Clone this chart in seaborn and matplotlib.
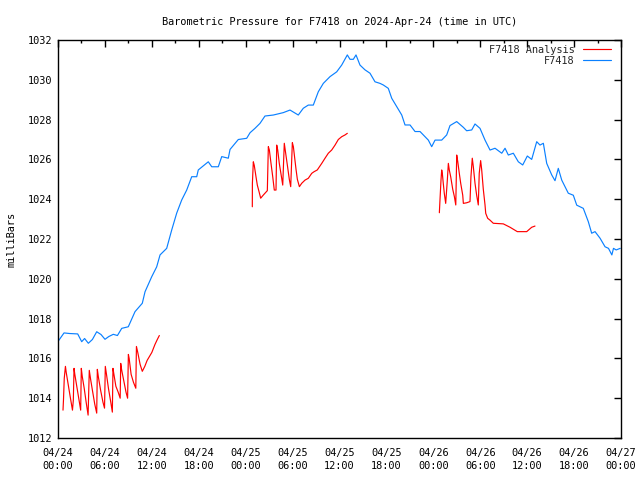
import matplotlib
matplotlib.use("Agg")
import matplotlib.pyplot as plt
import seaborn as sns
import pandas as pd
from matplotlib.lines import Line2D
from matplotlib.ticker import MultipleLocator

# --- data: hours since 2024-04-24 00:00 UTC, pressure in mb ---
station_hours = [0.0, 0.77, 1.5, 2.52, 3.03, 3.4, 3.88, 4.4, 4.95, 5.5, 6.01, 6.5, 7.07, 7.6, 8.15, 8.99,
                 9.85, 10.78, 11.13, 11.98, 12.62, 13.05, 13.9, 14.54, 15.18, 15.82, 16.46, 17.1, 17.74,
                 17.94, 19.22, 19.66, 20.5, 20.94, 21.78, 22.0, 23.06, 24.13, 24.56, 25.19, 25.83, 26.47,
                 27.54, 28.81, 29.67, 30.73, 31.37, 32.01, 32.65, 33.29, 33.93, 34.79, 35.64, 36.28, 37.0,
                 37.34, 37.77, 38.11, 38.62, 39.26, 39.9, 40.54, 41.18, 41.6, 42.24, 42.68, 43.32, 43.96,
                 44.38, 45.02, 45.66, 46.3, 46.94, 47.36, 47.79, 48.22, 49.07, 49.71, 50.13, 50.99, 51.84,
                 52.26, 52.91, 53.33, 53.97, 54.61, 55.25, 55.89, 56.75, 57.17, 57.59, 58.23, 58.87, 59.43,
                 60.02, 60.58, 61.22, 61.64, 62.07, 62.5, 63.14, 63.56, 63.98, 64.42, 65.26, 65.9, 66.34,
                 67.18, 67.82, 68.25, 68.68, 69.32, 69.96, 70.4, 70.83, 71.04, 71.38, 71.9]
station_mb = [1016.85, 1017.28, 1017.25, 1017.23, 1016.84, 1017.0, 1016.76, 1016.95, 1017.34, 1017.2, 1016.96,
              1017.1, 1017.21, 1017.15, 1017.51, 1017.59, 1018.35, 1018.77, 1019.35, 1020.1, 1020.6, 1021.2,
              1021.53, 1022.45, 1023.3, 1023.96, 1024.46, 1025.13, 1025.13, 1025.47, 1025.88, 1025.63,
              1025.63, 1026.14, 1026.06, 1026.5, 1027.0, 1027.06, 1027.34, 1027.56, 1027.81, 1028.18,
              1028.23, 1028.35, 1028.48, 1028.23, 1028.57, 1028.73, 1028.73, 1029.4, 1029.82, 1030.16,
              1030.4, 1030.74, 1031.25, 1031.03, 1031.03, 1031.25, 1030.74, 1030.5, 1030.33, 1029.9,
              1029.82, 1029.74, 1029.57, 1029.07, 1028.65, 1028.23, 1027.73, 1027.73, 1027.4, 1027.4,
              1027.14, 1026.97, 1026.64, 1026.97, 1026.97, 1027.23, 1027.7, 1027.9, 1027.61, 1027.44,
              1027.48, 1027.78, 1027.56, 1026.97, 1026.47, 1026.56, 1026.31, 1026.56, 1026.22, 1026.31,
              1025.88, 1025.72, 1026.17, 1026.0, 1026.89, 1026.72, 1026.81, 1025.8, 1025.22, 1024.93,
              1025.55, 1024.96, 1024.3, 1024.2, 1023.7, 1023.54, 1022.87, 1022.29, 1022.37, 1022.04,
              1021.61, 1021.53, 1021.2, 1021.53, 1021.45, 1021.53]

# analysis runs, three separate segments
run1_hours = [0.64, 0.70, 0.80, 0.95, 1.05, 1.3, 1.55, 1.85, 1.96, 2.05, 2.15, 2.4, 2.65, 2.90, 2.98, 3.1,
              3.35, 3.6, 3.85, 3.92, 4.0, 4.15, 4.4, 4.7, 4.95, 5.03, 5.15, 5.45, 5.75, 5.95, 6.05, 6.2,
              6.45, 6.75, 6.95, 7.03, 7.15, 7.4, 7.7, 7.95, 8.02, 8.15, 8.4, 8.7, 8.9, 9.0, 9.1, 9.35,
              9.65, 9.95, 10.03, 10.2, 10.5, 10.78, 11.1, 11.4, 11.7, 12.0, 12.4, 12.7, 12.96]
run1_mb = [1013.4, 1013.9, 1015.0, 1015.6, 1015.3, 1014.7, 1014.1, 1013.4, 1013.9, 1015.5, 1015.2, 1014.6,
           1014.0, 1013.4, 1015.5, 1015.1, 1014.5, 1013.8, 1013.15, 1014.2, 1015.4, 1015.0, 1014.4,
           1013.7, 1013.25, 1015.45, 1015.1, 1014.4, 1013.8, 1013.5, 1015.6, 1015.2, 1014.5, 1013.8,
           1013.3, 1015.5, 1015.2, 1014.6, 1014.3, 1014.0, 1015.75, 1015.4, 1014.9, 1014.3, 1014.0,
           1016.2, 1016.0, 1015.2, 1014.8, 1014.5, 1016.6, 1016.3, 1015.7, 1015.35, 1015.6, 1015.9,
           1016.1, 1016.3, 1016.7, 1016.95, 1017.15]
run2_hours = [24.85, 24.86, 24.98, 25.1, 25.32, 25.49, 25.71, 25.92, 26.26, 26.77, 26.9, 27.03, 27.24,
              27.46, 27.66, 27.88, 27.97, 28.1, 28.3, 28.61, 28.74, 28.94, 29.12, 29.37, 29.58, 29.76,
              29.97, 30.1, 30.44, 30.61, 30.87, 31.17, 31.59, 32.01, 32.45, 32.74, 33.16, 33.73, 34.15,
              34.57, 35.0, 35.43, 35.85, 36.28, 36.71, 37.0]
run2_mb = [1023.62, 1024.8, 1025.88, 1025.7, 1025.13, 1024.71, 1024.38, 1024.05, 1024.21, 1024.43,
           1026.64, 1026.47, 1025.8, 1025.13, 1024.46, 1024.46, 1026.72, 1026.47, 1025.8, 1025.04,
           1024.71, 1026.81, 1026.3, 1025.6, 1025.0, 1024.63, 1026.84, 1026.64, 1025.5, 1025.0,
           1024.63, 1024.8, 1024.96, 1025.05, 1025.3, 1025.38, 1025.47, 1025.8, 1026.06, 1026.31,
           1026.47, 1026.72, 1027.0, 1027.14, 1027.23, 1027.31]
run3_hours = [48.77, 48.84, 48.98, 49.07, 49.15, 49.27, 49.4, 49.58, 49.79, 49.92, 50.04, 50.22, 50.48,
              50.69, 50.87, 50.99, 51.12, 51.32, 51.5, 51.76, 51.84, 52.26, 52.69, 52.81, 52.98, 53.11,
              53.33, 53.54, 53.75, 53.87, 54.05, 54.18, 54.39, 54.61, 54.7, 54.95, 55.24, 55.67, 56.95,
              57.81, 58.74, 59.94, 60.58, 61.0]
run3_mb = [1023.32, 1023.88, 1024.96, 1025.47, 1025.3, 1024.8, 1024.3, 1023.79, 1024.96, 1025.8, 1025.47,
           1025.13, 1024.5, 1024.13, 1023.71, 1026.22, 1025.9, 1025.3, 1024.8, 1024.2, 1023.79, 1023.82,
           1023.88, 1025.13, 1026.06, 1025.65, 1024.8, 1024.2, 1023.71, 1025.3, 1025.94, 1025.5, 1024.5,
           1023.71, 1023.29, 1023.04, 1022.95, 1022.79, 1022.76, 1022.59, 1022.37, 1022.37, 1022.59,
           1022.65]

tick_hours = list(range(0, 73, 6))
tick_labels = ["04/24\n00:00", "04/24\n06:00", "04/24\n12:00", "04/24\n18:00",
               "04/25\n00:00", "04/25\n06:00", "04/25\n12:00", "04/25\n18:00",
               "04/26\n00:00", "04/26\n06:00", "04/26\n12:00", "04/26\n18:00", "04/27\n00:00"]

RED = "#ff0000"
BLUE = "#0a80ff"
FONT_SIZE = 7.4

station = pd.DataFrame({"hours": station_hours, "mb": station_mb})
analysis = pd.concat([
    pd.DataFrame({"hours": run1_hours, "mb": run1_mb, "run": 1}),
    pd.DataFrame({"hours": run2_hours, "mb": run2_mb, "run": 2}),
    pd.DataFrame({"hours": run3_hours, "mb": run3_mb, "run": 3}),
])

sns.set_style("white")
plt.rcParams["font.family"] = ["DejaVu Sans Mono"]
plt.rcParams["font.size"] = FONT_SIZE

fig = plt.figure(figsize=(6.4, 4.8), dpi=100)
ax = fig.add_axes([58 / 640, 1 - 438 / 480, 563 / 640, 398 / 480])

sns.lineplot(data=analysis, x="hours", y="mb", units="run", estimator=None,
             color=RED, linewidth=0.85, ax=ax, legend=False)
sns.lineplot(data=station, x="hours", y="mb", color=BLUE, linewidth=0.85, ax=ax, legend=False)

ax.set_xlim(0, 72)
ax.set_ylim(1012, 1032)
ax.set_xticks(tick_hours)
ax.set_xticklabels(tick_labels, linespacing=1.45)
ax.xaxis.set_minor_locator(MultipleLocator(3))
ax.set_yticks(range(1012, 1033, 2))
ax.tick_params(which="both", direction="in", top=True, right=True, color="black",
               labelcolor="black", width=1, labelsize=FONT_SIZE)
ax.tick_params(which="major", length=5, pad=4)
ax.tick_params(axis="x", which="major", pad=7)
ax.tick_params(which="minor", length=2.5)
for sp in ax.spines.values():
    sp.set_color("black")
    sp.set_linewidth(1)

ax.set_xlabel("")
ax.set_ylabel("milliBars", labelpad=8, color="black", fontsize=FONT_SIZE)
ax.set_title("Barometric Pressure for F7418 on 2024-Apr-24 (time in UTC)", pad=11,
             color="black", fontsize=FONT_SIZE)

handles = [Line2D([], [], color=RED, linewidth=0.85), Line2D([], [], color=BLUE, linewidth=0.85)]
ax.legend(handles, ["F7418 Analysis", "F7418"], loc="upper right", frameon=False,
          markerfirst=False, handlelength=2.7, handletextpad=0.8, labelspacing=0.1,
          fontsize=FONT_SIZE, bbox_to_anchor=(0.993, 1.003), borderaxespad=0.2)

fig.savefig("out.png", dpi=100, facecolor="white")
